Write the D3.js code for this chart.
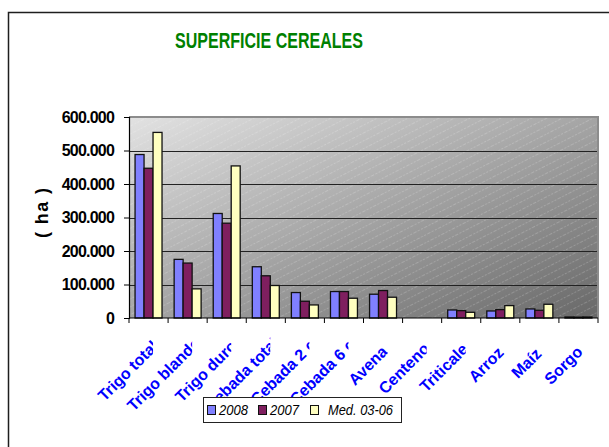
<!DOCTYPE html>
<html>
<head>
<meta charset="utf-8">
<script src="https://cdn.jsdelivr.net/npm/d3@7"></script>
<style>
  body { margin: 0; background: #fff; }
  svg { display: block; font-family: "Liberation Sans", Arial, sans-serif; }
</style>
</head>
<body>
<div id="chart"></div>
<script>
const categories = ['Trigo total', 'Trigo blando', 'Trigo duro', 'Cebada total', 'Cebada 2 c', 'Cebada 6 c',
    'Avena', 'Centeno', 'Triticale', 'Arroz', 'Maíz', 'Sorgo'];
const seriesNames = ['2008', '2007', 'Med. 03-06'];
const values2008 = [488000, 175000, 312000, 153000, 76000, 79000, 71000, null, 24000, 21000, 27000, 3000];
const values2007 = [447000, 164000, 283000, 126000, 50000, 79000, 82000, null, 22000, 25000, 23000, 2500];
const valuesMed = [554000, 87000, 454000, 97000, 39000, 59000, 62000, null, 17000, 37000, 41000, 3000];
const yTicks = [0, 100000, 200000, 300000, 400000, 500000, 600000];
const colors = ['#8080ff', '#7f1f5f', '#ffffc0'];

const svgWidth = 609;
const svgHeight = 447;
const plot = { left: 129, right: 598, top: 117, bottom: 318 };

const svg = d3.select('#chart')
    .append('svg')
    .attr('width', svgWidth)
    .attr('height', svgHeight);

const defs = svg.append('defs');

// gray background gradient + faint hatching, like the old excel plot area
const grad = defs.append('linearGradient')
    .attr('id', 'bg')
    .attr('x1', 0).attr('y1', 0).attr('x2', 1).attr('y2', 1);
grad.append('stop').attr('offset', '0%').attr('stop-color', '#e2e2e2');
grad.append('stop').attr('offset', '100%').attr('stop-color', '#686868');

const hatch = defs.append('pattern')
    .attr('id', 'hatch')
    .attr('patternUnits', 'userSpaceOnUse')
    .attr('width', 12).attr('height', 7)
    .attr('patternTransform', 'rotate(-27)');
hatch.append('line')
    .attr('x1', 0).attr('y1', 3.5).attr('x2', 12).attr('y2', 3.5)
    .attr('stroke', '#ffffff')
    .attr('stroke-opacity', 0.28)
    .attr('stroke-width', 0.7)
    .attr('stroke-dasharray', '2,1.5');

// outer chart frame
svg.append('rect')
    .attr('x', 8.5).attr('y', 12.5)
    .attr('width', 640).attr('height', 460)
    .attr('fill', 'none')
    .attr('stroke', '#1e1e1e')
    .attr('stroke-width', 1.5);

svg.append('text')
    .attr('x', 269)
    .attr('y', 48)
    .attr('text-anchor', 'middle')
    .attr('textLength', 188)
    .attr('lengthAdjust', 'spacingAndGlyphs')
    .style('font-size', '22px')
    .style('font-weight', 'bold')
    .style('fill', '#008000')
    .text('SUPERFICIE CEREALES');

const x0 = d3.scaleBand()
    .domain(categories)
    .range([plot.left, plot.right])
    .padding(0);

const x1 = d3.scaleBand()
    .domain(seriesNames)
    .range([x0.bandwidth() * 0.155, x0.bandwidth() * 0.845])
    .padding(0);

const y = d3.scaleLinear()
    .domain([0, 600000])
    .range([plot.bottom, plot.top]);

const pw = plot.right - plot.left;
const ph = plot.bottom - plot.top;
svg.append('rect')
    .attr('x', plot.left).attr('y', plot.top)
    .attr('width', pw).attr('height', ph)
    .attr('fill', 'url(#bg)');
svg.append('rect')
    .attr('x', plot.left).attr('y', plot.top)
    .attr('width', pw).attr('height', ph)
    .attr('fill', 'url(#hatch)');

// grid lines
svg.selectAll('.grid')
    .data(yTicks.filter(d => d > 0 && d < 600000))
    .enter().append('line')
    .attr('class', 'grid')
    .attr('x1', plot.left).attr('x2', plot.right)
    .attr('y1', d => Math.round(y(d)) + 0.5)
    .attr('y2', d => Math.round(y(d)) + 0.5)
    .attr('stroke', '#222')
    .attr('stroke-width', 1);

// top and right border of plot area
svg.append('path')
    .attr('d', 'M' + plot.left + ',' + plot.top + 'H' + plot.right + 'V' + plot.bottom)
    .attr('fill', 'none')
    .attr('stroke', '#8c8c8c')
    .attr('stroke-width', 2);

const seriesData = [values2008, values2007, valuesMed];

const groups = svg.selectAll('.cat')
    .data(categories)
    .enter().append('g')
    .attr('class', 'cat')
    .attr('transform', d => 'translate(' + x0(d) + ',0)');

groups.selectAll('rect')
    .data((c, ci) => seriesNames.map((s, si) => ({ s: s, si: si, v: seriesData[si][ci] })).filter(d => d.v != null))
    .enter().append('rect')
    .attr('x', d => x1(d.s))
    .attr('y', d => y(d.v))
    .attr('width', x1.bandwidth())
    .attr('height', d => plot.bottom - y(d.v))
    .attr('fill', d => colors[d.si])
    .attr('stroke', '#111')
    .attr('stroke-width', 1.3);

// axes
const fmt = d3.formatLocale({ decimal: ',', thousands: '.', grouping: [3], currency: ['', ''] }).format(',d');

const yAxis = svg.append('g')
    .attr('transform', 'translate(' + plot.left + ',0)')
    .call(d3.axisLeft(y).tickValues(yTicks).tickFormat(fmt).tickSize(5).tickPadding(10));
yAxis.select('.domain').attr('stroke', '#000').attr('stroke-width', 1.2);
yAxis.selectAll('.tick line').attr('stroke', '#000');
yAxis.selectAll('.tick text')
    .style('font-size', '16px')
    .style('font-weight', 'bold')
    .style('letter-spacing', '-0.8px')
    .attr('fill', '#000');

const xAxis = svg.append('g')
    .attr('transform', 'translate(0,' + plot.bottom + ')');
xAxis.append('line')
    .attr('x1', plot.left).attr('x2', plot.right)
    .attr('stroke', '#000').attr('stroke-width', 1.2);
xAxis.selectAll('.xtick')
    .data(categories.concat(['_end']))
    .enter().append('line')
    .attr('class', 'xtick')
    .attr('x1', (d, i) => plot.left + i * x0.step())
    .attr('x2', (d, i) => plot.left + i * x0.step())
    .attr('y1', 0).attr('y2', 5)
    .attr('stroke', '#000');

// rotated category labels; long ones push past the tick and get clipped on the right
const labels = svg.append('g');
const k = Math.SQRT1_2;
categories.forEach((c, i) => {
    const cx = x0(c) + x0.bandwidth() / 2;
    defs.append('clipPath')
        .attr('id', 'clip' + i)
        .append('rect')
        .attr('x', cx - 120).attr('y', plot.bottom + 5)
        .attr('width', 124.5).attr('height', 120);
    const t = labels.append('g')
        .attr('clip-path', 'url(#clip' + i + ')')
        .append('text')
        .attr('text-anchor', 'end')
        .style('font-size', '16px')
        .style('font-weight', 'bold')
        .attr('fill', '#0000ff')
        .text(c);
    const w = t.node().getComputedTextLength();
    const ex = cx + 5.5 + 0.25 * k * (w - 48);
    const ey = cx + 358 - ex;
    t.attr('transform', 'translate(' + ex + ',' + ey + ') rotate(-45)');
});

svg.append('text')
    .attr('transform', 'translate(48,213) rotate(-90)')
    .attr('text-anchor', 'middle')
    .attr('textLength', 50)
    .style('font-size', '18px')
    .style('font-weight', 'bold')
    .text('( ha )');

// legend
const legend = svg.append('g').attr('transform', 'translate(203,397)');
legend.append('rect')
    .attr('x', 0.5).attr('y', 0.5)
    .attr('width', 198).attr('height', 25)
    .attr('fill', '#fff')
    .attr('stroke', '#222');
const legX = [4, 55, 107];
const legLen = [29, 29, 65];
seriesNames.forEach((s, i) => {
    legend.append('rect')
        .attr('x', legX[i] + 0.5).attr('y', 8.5)
        .attr('width', 8).attr('height', 9)
        .attr('fill', colors[i])
        .attr('stroke', '#111');
    legend.append('text')
        .attr('x', legX[i] + (i === 2 ? 18 : 12))
        .attr('y', 18)
        .attr('textLength', legLen[i])
        .attr('lengthAdjust', 'spacingAndGlyphs')
        .style('font-size', '14px')
        .style('font-style', 'italic')
        .text(s);
});
</script>
</body>
</html>
